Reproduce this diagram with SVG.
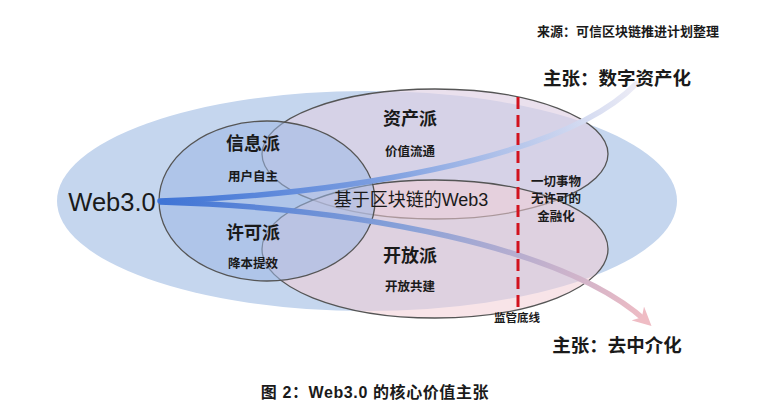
<svg xmlns="http://www.w3.org/2000/svg" width="780" height="412" viewBox="0 0 780 412">
<defs>
<style>
.t{font-family:"Liberation Sans","Noto Sans CJK SC",sans-serif;fill:#1a1a1a;text-anchor:middle}
.b{font-weight:bold}
.s{font-size:12.5px;font-weight:bold}
.h{font-size:18px;font-weight:bold}
.edge{stroke:#555;stroke-width:1.3}
</style>
<linearGradient id="gUp" gradientUnits="userSpaceOnUse" x1="160" y1="200" x2="640" y2="84">
<stop offset="0" stop-color="#3f74d6"/>
<stop offset="0.45" stop-color="#7e9fe0"/>
<stop offset="1" stop-color="#eeedf6"/>
</linearGradient>
<linearGradient id="gDn" gradientUnits="userSpaceOnUse" x1="160" y1="202" x2="645" y2="322">
<stop offset="0" stop-color="#3f74d6"/>
<stop offset="0.5" stop-color="#8aa2d8"/>
<stop offset="1" stop-color="#efbcc4"/>
</linearGradient>
<marker id="ah" viewBox="0 0 10 10" refX="6" refY="5" markerWidth="3.4" markerHeight="3.4" orient="auto" markerUnits="strokeWidth">
<path d="M0,0 L10,5 L0,10 L3,5 z" fill="#efbcc4"/>
</marker>
</defs>
<rect width="780" height="412" fill="#fff"/>
<g id="web3-field">
<ellipse cx="367" cy="201" rx="310" ry="110" fill="#c5d6ee"/>
</g>
<g id="asset">
<ellipse cx="435" cy="154" rx="173" ry="65" fill="#dfd0e4" fill-opacity="0.65" class="edge"/>
</g>
<g id="open">
<ellipse cx="435" cy="249" rx="173" ry="69" fill="#f2cdd5" fill-opacity="0.55" class="edge"/>
</g>
<g id="info-permit">
<ellipse cx="267" cy="201" rx="108" ry="80" fill="#9cb8e6" fill-opacity="0.55" class="edge"/>
</g>
<g id="connectors" fill="none">
<path d="M160,201 C330,195 560,162 636,84" stroke="url(#gUp)" stroke-width="5.5" stroke-linecap="round"/>
<path d="M160,202 C360,208 565,247 646,321" stroke="url(#gDn)" stroke-width="5.5" marker-end="url(#ah)"/>
<line x1="518" y1="97" x2="518" y2="307" stroke="#d2121e" stroke-width="3" stroke-dasharray="12,6"/>
</g>
<g id="labels">
<text class="t" x="112" y="211" font-size="25.5" fill="#222">Web3.0</text>
<text class="t h" x="253" y="150">信息派</text>
<text class="t s" x="253" y="181">用户自主</text>
<text class="t h" x="253" y="239">许可派</text>
<text class="t s" x="253" y="268">降本提效</text>
<text class="t h" x="410" y="125">资产派</text>
<text class="t s" x="410" y="156">价值流通</text>
<text class="t" x="411" y="206" font-size="18">基于区块链的Web3</text>
<text class="t h" x="410" y="262">开放派</text>
<text class="t s" x="410" y="291">开放共建</text>
<text class="t s" x="556" y="186">一切事物</text>
<text class="t s" x="556" y="203">无许可的</text>
<text class="t s" x="556" y="221">金融化</text>
<text class="t b" x="517" y="322" font-size="11.5">监管底线</text>
<text class="t b" x="617" y="85" font-size="18.5">主张：数字资产化</text>
<text class="t b" x="617" y="352" font-size="18.5">主张：去中介化</text>
<text class="t b" x="628" y="36" font-size="13">来源：可信区块链推进计划整理</text>
<text class="t b" x="375" y="398" font-size="16" letter-spacing="0.6">图 2：Web3.0 的核心价值主张</text>
</g>
</svg>
